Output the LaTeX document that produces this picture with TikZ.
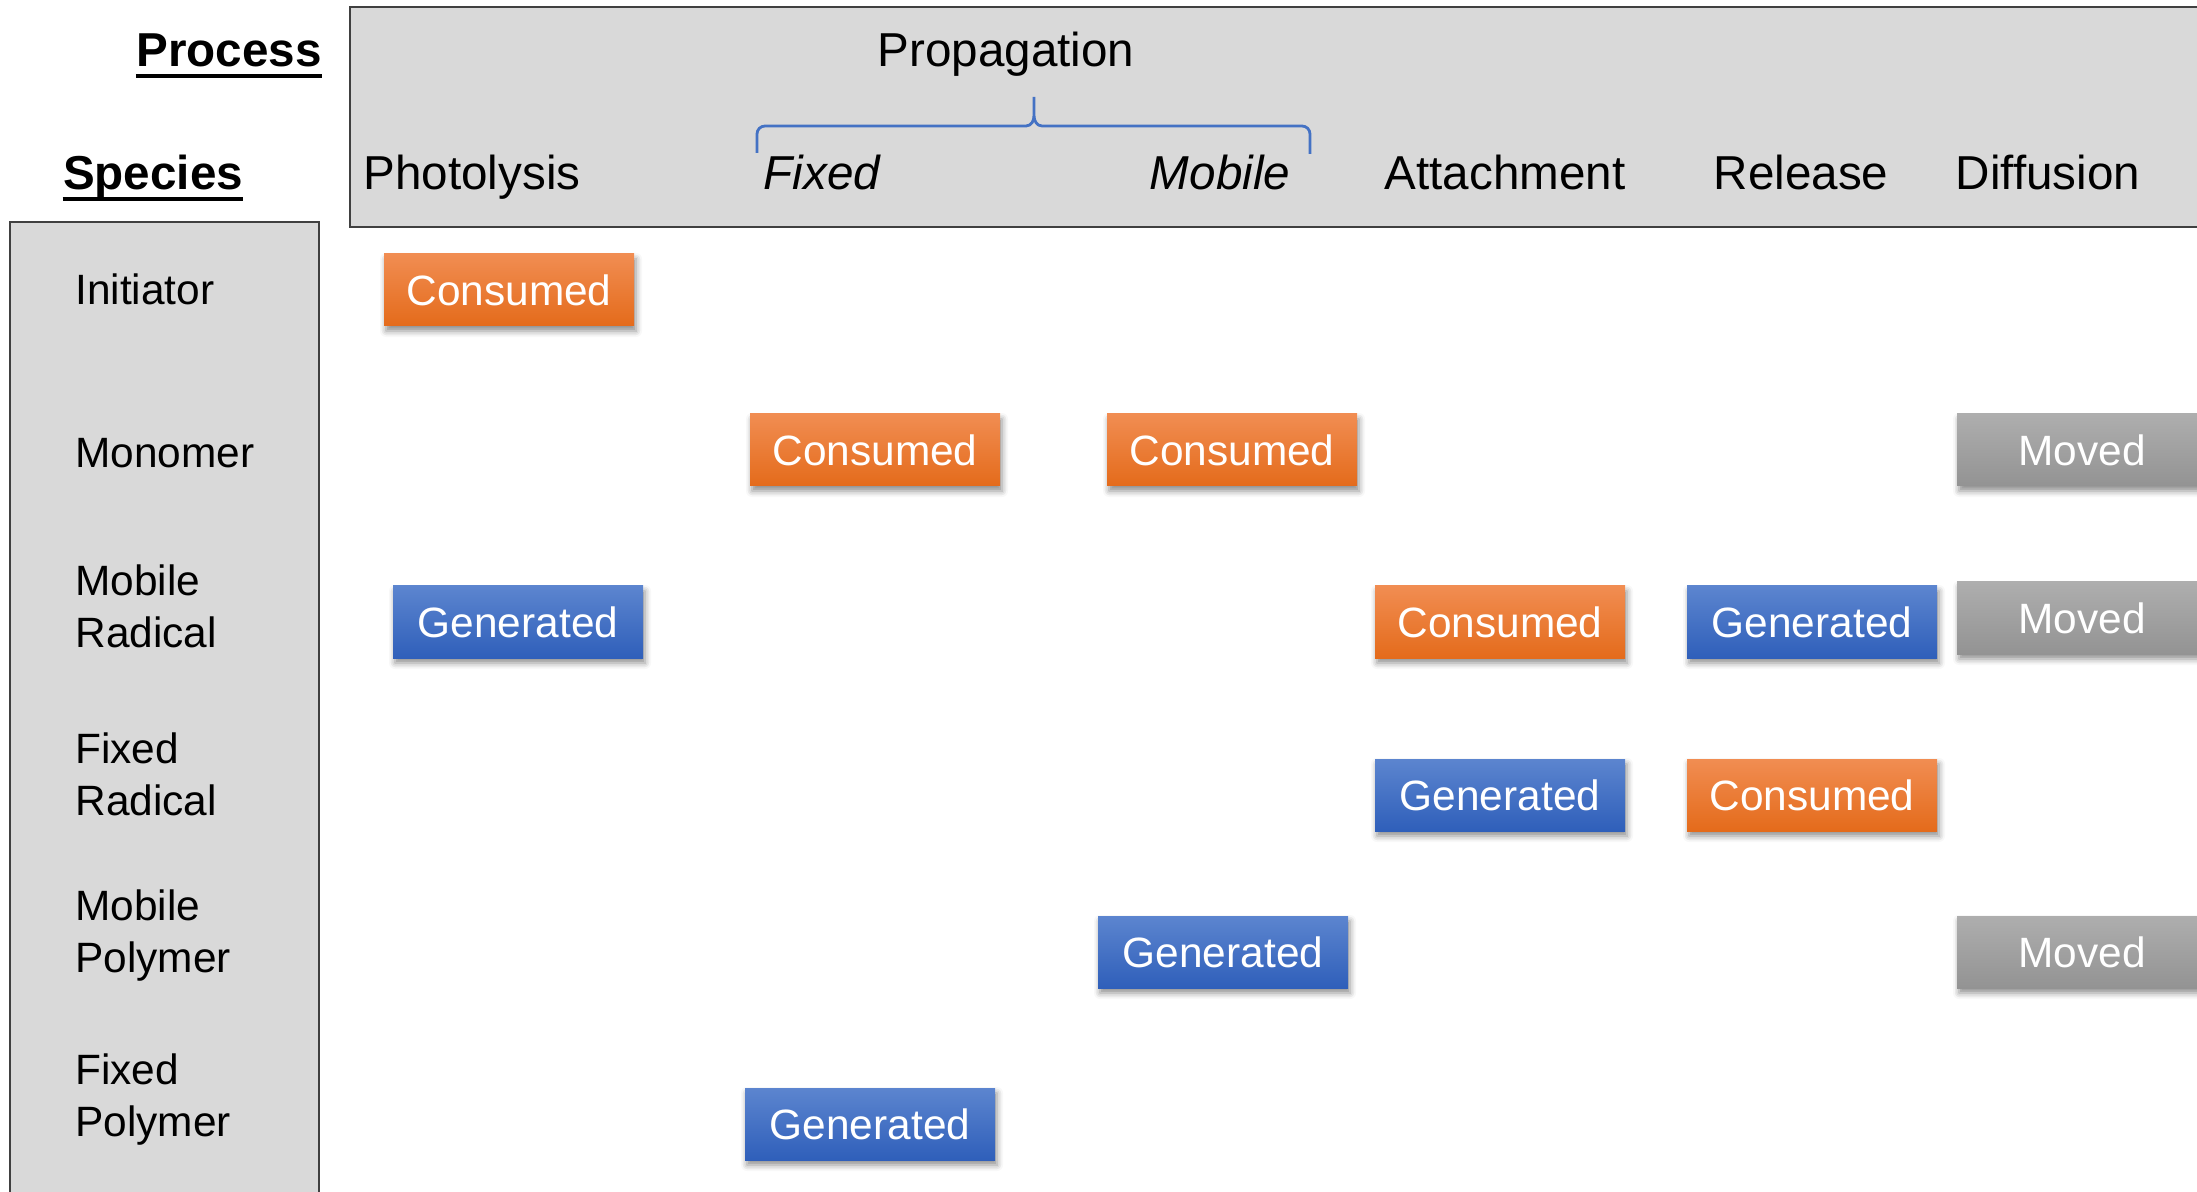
\documentclass[tikz,border=0pt]{standalone}
\usepackage{fontspec}
\setmainfont{Liberation Sans}
\usetikzlibrary{shadows.blur}
\definecolor{panel}{HTML}{D9D9D9}
\definecolor{panelborder}{HTML}{404040}
\definecolor{oratop}{HTML}{F18D52}
\definecolor{orabot}{HTML}{E46B1B}
\definecolor{blutop}{HTML}{5C85CF}
\definecolor{blubot}{HTML}{2F5FBA}
\definecolor{grytop}{HTML}{AEAEAE}
\definecolor{grybot}{HTML}{939393}
\definecolor{bracecol}{HTML}{4472C4}
\begin{document}
\begin{tikzpicture}[x=0.5pt,y=-0.5pt,
  hdr/.style={font=\fontsize{23.8}{28}\selectfont, inner sep=0pt, anchor=base},
  bighdr/.style={font=\fontsize{23.8}{28}\selectfont\bfseries, inner sep=0pt},
  splabel/.style={font=\fontsize{21.2}{25.6}\selectfont, inner sep=0pt, anchor=base west, align=left},
  tag/.style={minimum width=125pt, minimum height=36pt, inner sep=0pt, text=white,
    font=\fontsize{21.2}{26}\selectfont,
    blur shadow={shadow xshift=1pt, shadow yshift=-2.5pt, shadow blur radius=3pt, shadow opacity=45}},
  consumed/.style={tag, top color=oratop, bottom color=orabot},
  generated/.style={tag, top color=blutop, bottom color=blubot},
  moved/.style={tag, top color=grytop, bottom color=grybot},
  panelbox/.style={fill=panel, draw=panelborder, line width=0.9pt}
]
\useasboundingbox (0,0) rectangle (2197,1192);
\clip (0,0) rectangle (2197,1192);

% panels
\draw[panelbox] (350,7) rectangle (2215,227);
\draw[panelbox] (10,222) rectangle (319,1210);

% corner titles
\node[bighdr, anchor=base east] (proc) at (322,67) {Process};
\node[bighdr, anchor=base] (spec) at (153,190) {Species};
\draw[line width=2pt] ([yshift=-4.5pt]proc.base west) -- ([yshift=-4.5pt]proc.base east);
\draw[line width=2pt] ([yshift=-4.5pt]spec.base west) -- ([yshift=-4.5pt]spec.base east);

% process headers
\node[hdr] (prop) at (1006,67) {Propagation};
\node[hdr] (photo) at (472,190) {Photolysis};
\node[hdr, font=\fontsize{23.8}{28}\selectfont\itshape] (fixed) at (822,190) {Fixed};
\node[hdr, font=\fontsize{23.8}{28}\selectfont\itshape] (mobile) at (1220,190) {Mobile};
\node[hdr] (attach) at (1505,190) {Attachment};
\node[hdr] (release) at (1801,190) {Release};
\node[hdr] (diff) at (2048,190) {Diffusion};

% brace
\coordinate (bl) at (757,153);
\coordinate (bm) at (1034,97);
\coordinate (br) at (1310,154);
\draw[bracecol, line width=1.4pt]
  (bl) -- (757,134) to[out=90,in=180] (765,126) -- (1026,126)
  to[out=0,in=-90] (1034,116) -- (bm);
\draw[bracecol, line width=1.4pt]
  (1034,116) to[out=-90,in=180] (1042,126) -- (1302,126)
  to[out=0,in=90] (1310,134) -- (br);

% species labels (base = last line)
\node[splabel] (ini) at (75,305) {Initiator};
\node[splabel] (mono) at (75,468) {Monomer};
\node[splabel] (mrad) at (75,647) {Mobile\\Radical};
\node[splabel] (frad) at (75,815) {Fixed\\Radical};
\node[splabel] (mpol) at (75,972) {Mobile\\Polymer};
\node[splabel] (fpol) at (75,1136) {Fixed\\Polymer};

% tags
\node[consumed] (t1) at (509,290) {Consumed};
\node[consumed] (t2) at (875,450) {Consumed};
\node[consumed] (t3) at (1232,450) {Consumed};
\node[moved] (t4) at (2082,450) {Moved};
\node[generated] (t5) at (518,622) {Generated};
\node[consumed] (t6) at (1500,622) {Consumed};
\node[generated] (t7) at (1812,622) {Generated};
\node[moved] (t8) at (2082,618) {Moved};
\node[generated] (t9) at (1500,795) {Generated};
\node[consumed] (t10) at (1812,795) {Consumed};
\node[generated] (t11) at (1223,952) {Generated};
\node[moved] (t12) at (2082,952) {Moved};
\node[generated] (t13) at (870,1124) {Generated};
\end{tikzpicture}
\end{document}
